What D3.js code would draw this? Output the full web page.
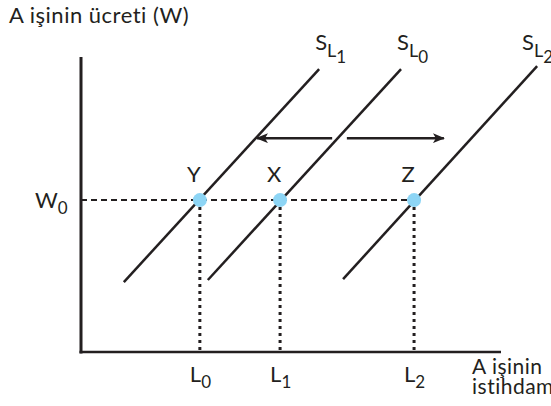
<!DOCTYPE html>
<html><head><meta charset="utf-8">
<script src="https://cdn.jsdelivr.net/npm/d3@7"></script>
<style>
html,body{margin:0;padding:0;background:#fff;}
text{font-family:Lato,"Noto Sans",sans-serif;fill:#231f20;}
</style></head>
<body><svg id="c" width="551" height="406"></svg>
<script>
// --- data ---
const axisTitles = ["A işinin ücreti (W)", "A işinin", "istihdamı"];
const supplyNames = ["1", "0", "2"];              // S_L1, S_L0, S_L2
const supplyLow  = [[1.02, 2.37], [3.02, 2.44], [6.24, 2.47]];
const supplyHigh = [[5.67, 9.59], [7.62, 9.59], [10.86, 9.69]];
const pointNames = ["Y", "X", "Z"];
const pointL     = [2.83, 4.74, 7.93];
const lNames     = ["0", "1", "2"];
const wage0 = 5.15;
const arrowY = 7.25;
const arrowLeft  = [5.98, 4.19];
const arrowRight = [6.33, 8.64];

const svg = d3.select("#c");
const x = d3.scaleLinear().domain([0, 10]).range([81, 501]);
const y = d3.scaleLinear().domain([0, 10]).range([352, 57]);
const ink = "#231f20";

svg.append("defs").append("marker")
  .attr("id","ah").attr("viewBox","0 0 12 10").attr("refX",11).attr("refY",5)
  .attr("markerWidth",12).attr("markerHeight",10).attr("markerUnits","userSpaceOnUse")
  .attr("orient","auto")
  .append("path").attr("d","M0,0 L12,5 L0,10 L3,5 Z").attr("fill",ink);

// axes
svg.append("line").attr("x1",x(0)).attr("x2",x(0)).attr("y1",y(10)).attr("y2",y(0)+1.5)
  .attr("stroke",ink).attr("stroke-width",3);
svg.append("line").attr("x1",x(0)-1.5).attr("x2",x(10)).attr("y1",y(0)).attr("y2",y(0))
  .attr("stroke",ink).attr("stroke-width",2.5);

// dashed wage line
svg.append("line").attr("x1",x(0)).attr("x2",x(pointL[2])).attr("y1",y(wage0)).attr("y2",y(wage0))
  .attr("stroke",ink).attr("stroke-width",2).attr("stroke-dasharray","6,4");

// dotted verticals
svg.selectAll(".vd").data(pointL).join("line")
  .attr("x1",d=>x(d)).attr("x2",d=>x(d)).attr("y1",y(wage0)).attr("y2",y(0))
  .attr("stroke",ink).attr("stroke-width",3).attr("stroke-dasharray","3,4");

// supply lines
svg.selectAll(".sl").data(supplyLow).join("line")
  .attr("x1",d=>x(d[0])).attr("y1",d=>y(d[1]))
  .attr("x2",(d,i)=>x(supplyHigh[i][0])).attr("y2",(d,i)=>y(supplyHigh[i][1]))
  .attr("stroke",ink).attr("stroke-width",2.5);

// arrows
[arrowLeft, arrowRight].forEach(a=>{
  svg.append("line").attr("x1",x(a[0])).attr("x2",x(a[1])).attr("y1",y(arrowY)).attr("y2",y(arrowY))
    .attr("stroke",ink).attr("stroke-width",2.5).attr("marker-end","url(#ah)");
});

// points
svg.selectAll(".pt").data(pointL).join("circle")
  .attr("cx",d=>x(d)).attr("cy",y(wage0)).attr("r",7).attr("fill","#8dd5f5");

// point labels
svg.selectAll(".pl").data(pointNames).join("text")
  .attr("x",(d,i)=>x(pointL[i])-6).attr("y",y(wage0)-18).attr("text-anchor","middle")
  .attr("font-size",22).text(d=>d);

// supply labels
supplyNames.forEach((n,i)=>{
  const t = svg.append("text").attr("x",Math.min(x(supplyHigh[i][0])-4, 522)).attr("y",50).attr("font-size",22);
  t.append("tspan").text("S");
  t.append("tspan").attr("dy",7).attr("font-size",18).text("L");
  t.append("tspan").attr("dy",6).attr("font-size",17).text(n);
});

// L labels
lNames.forEach((n,i)=>{
  const t = svg.append("text").attr("x",x(pointL[i])-10).attr("y",382).attr("font-size",22);
  t.append("tspan").text("L");
  t.append("tspan").attr("dy",6).attr("font-size",17).text(n);
});

// W0 label
{
  const t = svg.append("text").attr("x",35).attr("y",y(wage0)+8).attr("font-size",22);
  t.append("tspan").text("W");
  t.append("tspan").attr("dy",6).attr("font-size",17).text("0");
}

// axis titles
svg.append("text").attr("x",9).attr("y",23).attr("font-size",22).attr("letter-spacing",0.5).text(axisTitles[0]);
svg.append("text").attr("x",472).attr("y",374).attr("font-size",21).attr("letter-spacing",0.5).text(axisTitles[1]);
svg.append("text").attr("x",472).attr("y",394).attr("font-size",21).attr("letter-spacing",0.5).text(axisTitles[2]);
</script></body></html>
